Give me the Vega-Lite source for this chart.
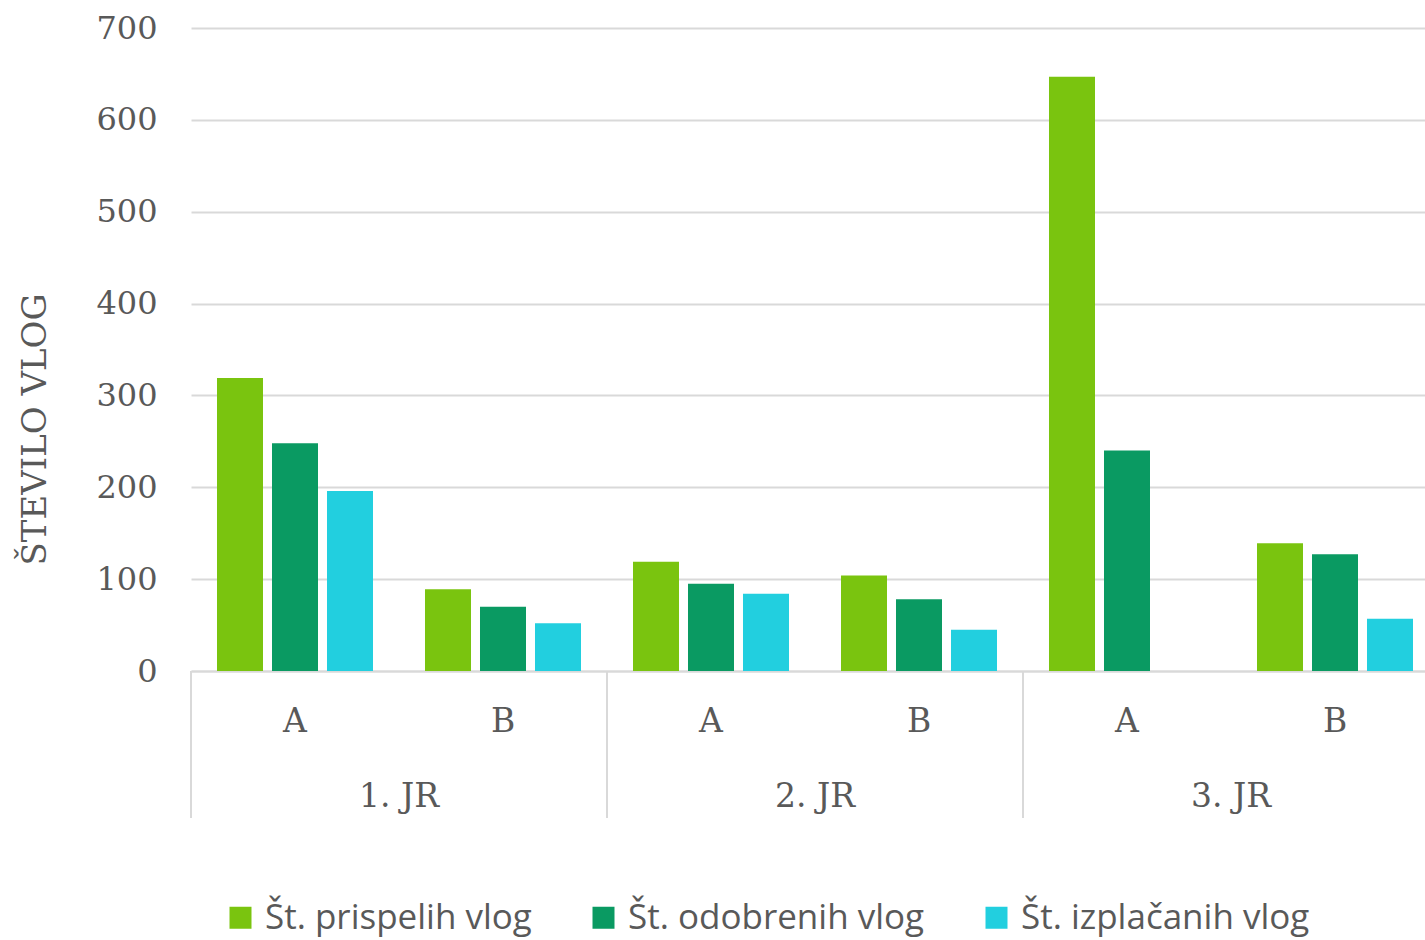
{
  "$schema": "https://vega.github.io/schema/vega-lite/v6.json",
  "width": 1234,
  "height": 643,
  "autosize": "none",
  "padding": {"left": 191, "top": 28, "right": 0, "bottom": 269},
  "background": "white",
  "config": {"view": {"stroke": null}},
  "datasets": {
    "bars": [
      {"jr": "1. JR", "cat": "1. JR|A", "series": "Št. prispelih vlog", "value": 319},
      {"jr": "1. JR", "cat": "1. JR|A", "series": "Št. odobrenih vlog", "value": 248},
      {"jr": "1. JR", "cat": "1. JR|A", "series": "Št. izplačanih vlog", "value": 196},
      {"jr": "1. JR", "cat": "1. JR|B", "series": "Št. prispelih vlog", "value": 89},
      {"jr": "1. JR", "cat": "1. JR|B", "series": "Št. odobrenih vlog", "value": 70},
      {"jr": "1. JR", "cat": "1. JR|B", "series": "Št. izplačanih vlog", "value": 52},
      {"jr": "2. JR", "cat": "2. JR|A", "series": "Št. prispelih vlog", "value": 119},
      {"jr": "2. JR", "cat": "2. JR|A", "series": "Št. odobrenih vlog", "value": 95},
      {"jr": "2. JR", "cat": "2. JR|A", "series": "Št. izplačanih vlog", "value": 84},
      {"jr": "2. JR", "cat": "2. JR|B", "series": "Št. prispelih vlog", "value": 104},
      {"jr": "2. JR", "cat": "2. JR|B", "series": "Št. odobrenih vlog", "value": 78},
      {"jr": "2. JR", "cat": "2. JR|B", "series": "Št. izplačanih vlog", "value": 45},
      {"jr": "3. JR", "cat": "3. JR|A", "series": "Št. prispelih vlog", "value": 647},
      {"jr": "3. JR", "cat": "3. JR|A", "series": "Št. odobrenih vlog", "value": 240},
      {"jr": "3. JR", "cat": "3. JR|B", "series": "Št. prispelih vlog", "value": 139},
      {"jr": "3. JR", "cat": "3. JR|B", "series": "Št. odobrenih vlog", "value": 127},
      {"jr": "3. JR", "cat": "3. JR|B", "series": "Št. izplačanih vlog", "value": 57}
    ],
    "groups": [
      {"jr": "1. JR", "first": "1. JR|A", "mid": "1. JR|B", "top": 0, "bottom": -160, "labelpos": -137},
      {"jr": "2. JR", "first": "2. JR|A", "mid": "2. JR|B", "top": 0, "bottom": -160, "labelpos": -137},
      {"jr": "3. JR", "first": "3. JR|A", "mid": "3. JR|B", "top": 0, "bottom": -160, "labelpos": -137}
    ]
  },
  "layer": [
    {
      "data": {"name": "bars"},
      "mark": {"type": "bar"},
      "encoding": {
        "x": {
          "field": "cat",
          "type": "nominal",
          "sort": ["1. JR|A", "1. JR|B", "2. JR|A", "2. JR|B", "3. JR|A", "3. JR|B"],
          "scale": {"domain": ["1. JR|A", "1. JR|B", "2. JR|A", "2. JR|B", "3. JR|A", "3. JR|B"], "range": [0, 1248], "paddingInner": 0, "paddingOuter": 0},
          "axis": {
            "title": null,
            "labelExpr": "split(datum.label, '|')[1]",
            "labelFont": "DejaVu Serif",
            "labelFontSize": 33,
            "labelColor": "#595959",
            "labelPadding": 34,
            "labelAngle": 0,
            "ticks": false,
            "domain": true,
            "domainColor": "#D9D9D9",
            "domainWidth": 2,
            "grid": false
          }
        },
        "xOffset": {
          "field": "series",
          "type": "nominal",
          "scale": {"domain": ["Št. prispelih vlog", "Št. odobrenih vlog", "Št. izplačanih vlog"], "paddingInner": 0.1636, "paddingOuter": 0.4727}
        },
        "y": {
          "field": "value",
          "type": "quantitative",
          "scale": {"domain": [0, 700], "nice": false},
          "axis": {
            "title": "ŠTEVILO VLOG",
            "titleFont": "DejaVu Serif",
            "titleFontSize": 34,
            "titleFontWeight": "normal",
            "titleColor": "#595959",
            "titleX": -139,
            "titleY": 401,
            "values": [0, 100, 200, 300, 400, 500, 600, 700],
            "labelFont": "DejaVu Serif",
            "labelFontSize": 32,
            "labelColor": "#595959",
            "labelPadding": 34,
            "ticks": false,
            "domain": false,
            "grid": true,
            "gridColor": "#D9D9D9",
            "gridWidth": 2
          }
        },
        "color": {
          "field": "series",
          "type": "nominal",
          "scale": {"domain": ["Št. prispelih vlog", "Št. odobrenih vlog", "Št. izplačanih vlog"], "range": ["#7AC40F", "#0A9A62", "#22CFDF"]},
          "legend": {
            "title": null,
            "orient": "none",
            "direction": "horizontal",
            "legendX": 32,
            "legendY": 872,
            "symbolType": "square",
            "symbolSize": 484,
            "symbolStrokeWidth": 0,
            "symbolOpacity": 1,
            "labelFont": "Open Sans",
            "labelFontSize": 35,
            "labelColor": "#595959",
            "labelOffset": 7,
            "labelLimit": 500,
            "columnPadding": 54,
            "padding": 0
          }
        }
      }
    },
    {
      "data": {"name": "groups"},
      "mark": {"type": "rule", "color": "#D9D9D9", "strokeWidth": 2},
      "encoding": {
        "x": {"field": "first", "type": "nominal", "bandPosition": 0},
        "y": {"field": "top", "type": "quantitative"},
        "y2": {"field": "bottom"}
      }
    },
    {
      "data": {"name": "groups"},
      "mark": {"type": "text", "font": "DejaVu Serif", "fontSize": 33, "color": "#595959", "baseline": "middle", "align": "center"},
      "encoding": {
        "x": {"field": "mid", "type": "nominal", "bandPosition": 0},
        "y": {"field": "labelpos", "type": "quantitative"},
        "text": {"field": "jr"}
      }
    }
  ]
}
